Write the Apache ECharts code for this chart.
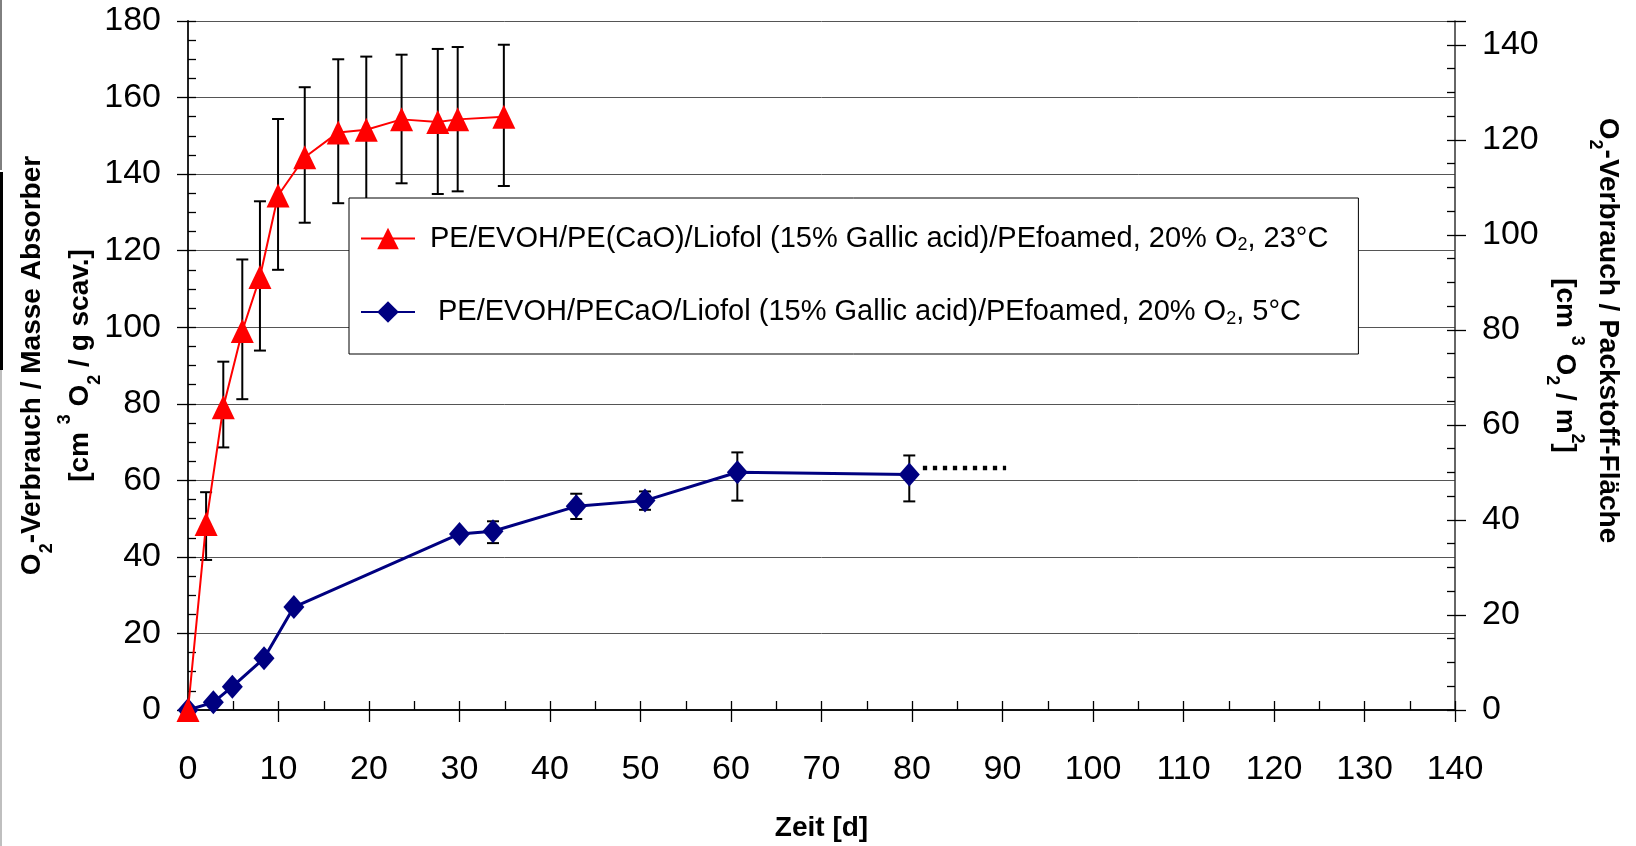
<!DOCTYPE html>
<html>
<head>
<meta charset="utf-8">
<script src="https://cdn.jsdelivr.net/npm/echarts@6.0.0/dist/echarts.min.js"></script>
<style>
  html, body { margin: 0; padding: 0; background: #fff; }
  #chart { width: 1636px; height: 846px; }
</style>
</head>
<body>
<div id="chart"></div>
<script>
// 23°C series (red triangles)
const redDays = [0, 2.0, 3.9, 6.0, 7.95, 9.95, 12.9, 16.6, 19.7, 23.6, 27.6, 29.8, 34.9];
const redValues = [0, 48.6, 79.1, 99.0, 113.1, 134.4, 144.4, 150.9, 151.6, 154.3, 153.6, 154.3, 155.0];
const redErrDays = [2.0, 3.9, 6.0, 7.95, 9.95, 12.9, 16.6, 19.7, 23.6, 27.6, 29.8, 34.9];
const redErrLow = [39.2, 68.6, 81.2, 93.9, 115.0, 127.3, 132.4, 132.5, 137.6, 134.8, 135.5, 136.9];
const redErrHigh = [56.9, 91.0, 117.7, 132.9, 154.4, 162.7, 170.0, 170.7, 171.2, 172.7, 173.2, 173.8];

// 5°C series (blue diamonds)
const blueDays = [0, 2.8, 4.9, 8.4, 11.7, 30.0, 33.7, 42.9, 50.5, 60.7, 79.7];
const blueValues = [0, 2.0, 6.1, 13.5, 26.9, 46.0, 46.7, 53.2, 54.7, 62.1, 61.5];
const blueErrDays = [33.7, 42.9, 50.5, 60.7, 79.7];
const blueErrLow = [43.6, 49.9, 52.3, 54.7, 54.5];
const blueErrHigh = [49.3, 56.5, 57.1, 67.3, 66.5];

// dotted continuation after the last blue point
const trendDays = [81.2, 90.4];
const trendValues = [63.2, 63.2];

const redName = 'PE/EVOH/PE(CaO)/Liofol (15% Gallic acid)/PEfoamed, 20% O2, 23°C';
const blueName = 'PE/EVOH/PECaO/Liofol (15% Gallic acid)/PEfoamed, 20% O2, 5°C';

const FONT = "'Liberation Sans', Arial, sans-serif";

const zip = (xs, ys) => xs.map((x, i) => [x, ys[i]]);
const zip3 = (xs, lo, hi) => xs.map((x, i) => [x, lo[i], hi[i]]);

function renderErrorBar(params, api) {
  const x = api.value(0);
  const lo = api.coord([x, api.value(1)]);
  const hi = api.coord([x, api.value(2)]);
  const half = 6;
  const style = { stroke: '#000', lineWidth: 2 };
  return {
    type: 'group',
    children: [
      { type: 'line', shape: { x1: lo[0], y1: lo[1], x2: hi[0], y2: hi[1] }, style },
      { type: 'line', shape: { x1: lo[0] - half, y1: lo[1], x2: lo[0] + half, y2: lo[1] }, style },
      { type: 'line', shape: { x1: hi[0] - half, y1: hi[1], x2: hi[0] + half, y2: hi[1] }, style }
    ]
  };
}

const nameRich = (lh) => ({
  b: { fontFamily: FONT, fontSize: 28, fontWeight: 'bold', color: '#000', lineHeight: lh },
  bs: { fontFamily: FONT, fontSize: 18, fontWeight: 'bold', color: '#000', lineHeight: 30, verticalAlign: 'bottom' },
  bp: { fontFamily: FONT, fontSize: 18, fontWeight: 'bold', color: '#000', lineHeight: 22, verticalAlign: 'top' },
  gap: { width: 70 }
});

const labelStyle = { fontFamily: FONT, fontSize: 34, color: '#000' };

const chart = echarts.init(document.getElementById('chart'));

const option = {
  backgroundColor: '#fff',
  animation: false,
  grid: {
    left: 188, right: 181, top: 21, bottom: 136,
    containLabel: false,
    outerBoundsMode: 'none'
  },
  legend: {
    left: 349, top: 198,
    orient: 'vertical',
    data: [redName, blueName],
    backgroundColor: '#fff',
    borderColor: '#000',
    borderWidth: 1,
    borderRadius: 0,
    padding: [26, 30, 26, 11],
    itemWidth: 54,
    itemHeight: 27,
    itemGap: 43,
    formatter: function (name) {
      if (name === redName) {
        return '{sp| }{n|PE/EVOH/PE(CaO)/Liofol (15% Gallic acid)/PEfoamed, 20% O}{sub|2}{n|, 23°C}';
      }
      return '{sp2| }{n|PE/EVOH/PECaO/Liofol (15% Gallic acid)/PEfoamed, 20% O}{sub|2}{n|, 5°C}';
    },
    textStyle: {
      rich: {
        n: { fontFamily: FONT, fontSize: 29, color: '#000', lineHeight: 32 },
        sub: { fontFamily: FONT, fontSize: 18, color: '#000', lineHeight: 10, verticalAlign: 'bottom' },
        sp: { width: 10 },
        sp2: { width: 18 }
      }
    }
  },
  xAxis: [
    {
      type: 'value', min: 0, max: 140, interval: 10, position: 'bottom',
      name: 'Zeit [d]', nameLocation: 'middle', nameGap: 104, nameMoveOverlap: false,
      nameTextStyle: { fontFamily: FONT, fontSize: 28, fontWeight: 'bold', color: '#000', lineHeight: 28 },
      axisLine: { show: true, onZero: false, lineStyle: { color: '#111', width: 2 } },
      axisTick: { show: true, inside: false, length: 12, lineStyle: { color: '#000', width: 1.3 } },
      axisLabel: Object.assign({ margin: 43 }, labelStyle),
      splitLine: { show: false }
    },
    {
      type: 'value', min: 0, max: 140, interval: 5, position: 'bottom',
      axisLine: { show: false, onZero: false },
      axisTick: { show: true, inside: true, length: 9, lineStyle: { color: '#000', width: 1.3 } },
      axisLabel: { show: false },
      splitLine: { show: false }
    }
  ],
  yAxis: [
    {
      type: 'value', min: 0, max: 180, interval: 20, position: 'left',
      name: '{b|O}{bs|2}{b|-Verbrauch / Masse Absorber}\n{b|[cm }{bp|3}{b| O}{bs|2}{b| / g scav.]}',
      nameLocation: 'middle', nameRotate: 90, nameGap: 84, nameMoveOverlap: false,
      nameTextStyle: { rich: nameRich(48) },
      axisLine: { show: true, onZero: false, lineStyle: { color: '#222', width: 2 } },
      axisTick: { show: true, inside: false, length: 11, lineStyle: { color: '#000', width: 1.3 } },
      axisLabel: Object.assign({ margin: 27 }, labelStyle),
      splitLine: { show: true, lineStyle: { color: '#555', width: 1 } }
    },
    {
      type: 'value', min: 0, max: 145, interval: 20, position: 'right',
      name: '{b|O}{bs|2}{b|-Verbrauch / Packstoff-Fläche}{gap| }\n{b|[cm }{bp|3}{b| O}{bs|2}{b| / m}{bp|2}{b|]}',
      nameLocation: 'middle', nameRotate: -90, nameGap: 88, nameMoveOverlap: false,
      nameTextStyle: { rich: nameRich(43) },
      axisLine: { show: true, onZero: false, lineStyle: { color: '#333', width: 1.5 } },
      axisTick: { show: true, inside: false, length: 11, lineStyle: { color: '#000', width: 1.3 } },
      axisLabel: Object.assign({
        margin: 27,
        formatter: function (v) { return v % 20 === 0 ? String(v) : ''; }
      }, labelStyle),
      splitLine: { show: false }
    },
    {
      type: 'value', min: 0, max: 180, interval: 5, position: 'left',
      axisLine: { show: false, onZero: false },
      axisTick: { show: true, inside: true, length: 8, lineStyle: { color: '#000', width: 1.3 } },
      axisLabel: { show: false },
      splitLine: { show: false }
    },
    {
      type: 'value', min: 0, max: 145, interval: 5, position: 'right',
      axisLine: { show: false, onZero: false },
      axisTick: { show: true, inside: true, length: 8, lineStyle: { color: '#000', width: 1.3 } },
      axisLabel: { show: false },
      splitLine: { show: false }
    }
  ],
  graphic: [
    { type: 'line', silent: true, shape: { x1: 1, y1: 0, x2: 1, y2: 170 }, style: { stroke: '#000', lineWidth: 1 } },
    { type: 'line', silent: true, shape: { x1: 1.5, y1: 172, x2: 1.5, y2: 370 }, style: { stroke: '#000', lineWidth: 3 } },
    { type: 'line', silent: true, shape: { x1: 1, y1: 370, x2: 1, y2: 846 }, style: { stroke: '#aaa', lineWidth: 1.5 } }
  ],
  series: [
    {
      type: 'custom', name: 'blueErr', xAxisIndex: 0, yAxisIndex: 0, z: 1,
      renderItem: renderErrorBar, encode: { x: 0, y: [1, 2] },
      data: zip3(blueErrDays, blueErrLow, blueErrHigh)
    },
    {
      type: 'custom', name: 'redErr', xAxisIndex: 0, yAxisIndex: 0, z: 1,
      renderItem: renderErrorBar, encode: { x: 0, y: [1, 2] },
      data: zip3(redErrDays, redErrLow, redErrHigh)
    },
    {
      type: 'line', name: 'trend', xAxisIndex: 0, yAxisIndex: 0, z: 2,
      symbol: 'none',
      lineStyle: { color: '#000', width: 4.5, type: [4.3, 5.7] },
      data: zip(trendDays, trendValues)
    },
    {
      type: 'line', name: blueName, xAxisIndex: 0, yAxisIndex: 0, z: 3,
      symbol: 'diamond', symbolSize: [21, 24],
      itemStyle: { color: '#000080' },
      lineStyle: { color: '#000080', width: 3 },
      data: zip(blueDays, blueValues)
    },
    {
      type: 'line', name: redName, xAxisIndex: 0, yAxisIndex: 0, z: 4,
      symbol: 'triangle', symbolSize: [23, 24],
      itemStyle: { color: '#ff0000' },
      lineStyle: { color: '#ff0000', width: 2 },
      data: zip(redDays, redValues)
    }
  ]
};

chart.setOption(option);
</script>
</body>
</html>
